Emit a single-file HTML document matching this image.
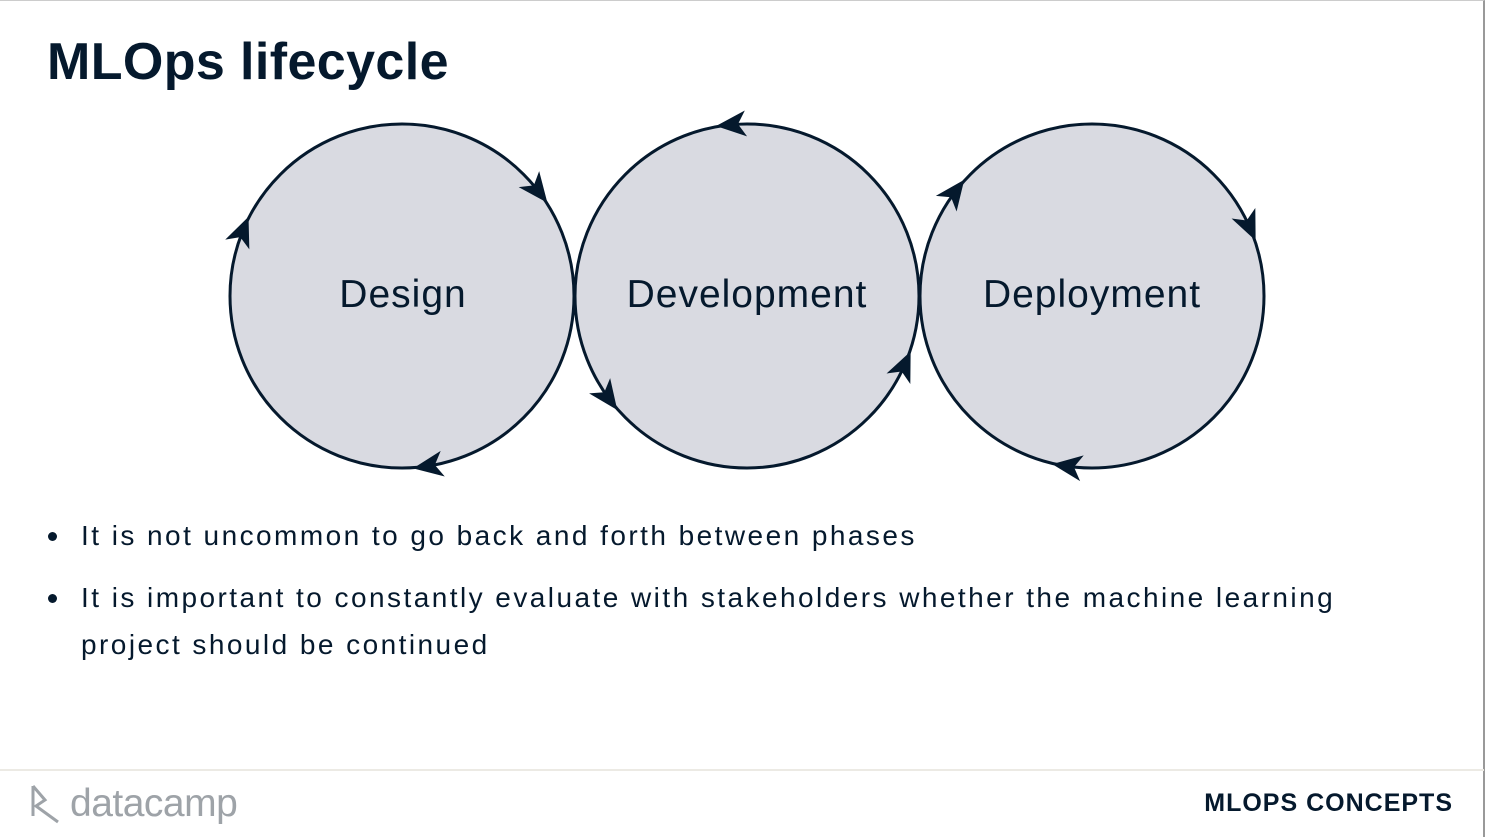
<!DOCTYPE html>
<html><head><meta charset="utf-8"><style>
body{margin:0;width:1486px;height:838px;background:#fff;position:relative;overflow:hidden;font-family:"Liberation Sans",sans-serif;color:#05192d}
.frame{position:absolute;left:0;top:0;width:1483px;height:836px;border-top:1px solid #ccc;border-right:2px solid #999}
h1{position:absolute;left:47px;top:32px;margin:0;font-size:52px;font-weight:bold;letter-spacing:0.4px}
.b{position:absolute;left:81px;font-size:28px;letter-spacing:2.45px;line-height:47px}
.dot{position:absolute;left:48px;width:9px;height:9px;border-radius:50%;background:#05192d}
.foot{position:absolute;left:0;top:769px;width:1484px;border-top:2px solid #eceae4}
.mc{position:absolute;right:33px;top:789px;font-size:25px;font-weight:bold;letter-spacing:1px}
.logo{position:absolute;left:70px;top:782px;font-size:39px;color:#9ea3a8;letter-spacing:-0.5px}
</style></head><body>
<div class="frame"></div>
<h1>MLOps lifecycle</h1>
<svg width="1486" height="838" style="position:absolute;left:0;top:0">
<defs>
<path id="ar" d="M16 0 L-14 -13 L-6 0 L-14 13 Z" fill="#05192d"/>
<path id="al" d="M-16 0 L14 -13 L6 0 L14 13 Z" fill="#05192d"/>
</defs>
<g fill="#d9dae1" stroke="#05192d" stroke-width="3">
<circle cx="402" cy="296" r="172"/>
<circle cx="747" cy="296" r="172"/>
<circle cx="1092" cy="296" r="172"/>
</g>
<g transform="rotate(52 402 296)"><use href="#ar" x="402" y="124"/></g>
<g transform="rotate(171 402 296)"><use href="#ar" x="402" y="124"/></g>
<g transform="rotate(292 402 296)"><use href="#ar" x="402" y="124"/></g>
<g transform="rotate(-5 747 296)"><use href="#al" x="747" y="124"/></g>
<g transform="rotate(234 747 296)"><use href="#al" x="747" y="124"/></g>
<g transform="rotate(114 747 296)"><use href="#al" x="747" y="124"/></g>
<g transform="rotate(307 1092 296)"><use href="#ar" x="1092" y="124"/></g>
<g transform="rotate(66 1092 296)"><use href="#ar" x="1092" y="124"/></g>
<g transform="rotate(188 1092 296)"><use href="#ar" x="1092" y="124"/></g>
<g font-family="Liberation Sans, sans-serif" font-size="39" fill="#05192d" text-anchor="middle" letter-spacing="1">
<text x="403" y="307">Design</text>
<text x="747" y="307">Development</text>
<text x="1092" y="307">Deployment</text>
</g>
<path d="M33 786 L33 816 M33 786 L45 800 L36 806 L58 822" stroke="#9ea3a8" stroke-width="3" fill="none"/>
</svg>
<div class="dot" style="top:532px"></div>
<div class="b" style="top:512px">It is not uncommon to go back and forth between phases</div>
<div class="dot" style="top:594px"></div>
<div class="b" style="top:574px">It is important to constantly evaluate with stakeholders whether the machine learning<br>project should be continued</div>
<div class="foot"></div>
<div class="logo">datacamp</div>
<div class="mc">MLOPS CONCEPTS</div>
</body></html>
